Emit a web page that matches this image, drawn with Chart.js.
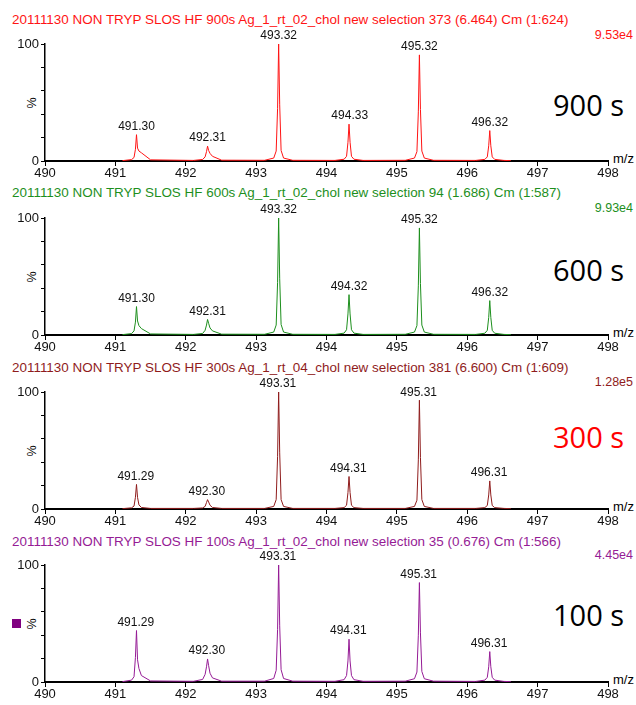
<!DOCTYPE html>
<html>
<head>
<meta charset="utf-8">
<script src="https://cdn.jsdelivr.net/npm/chart.js@4.4.1/dist/chart.umd.min.js"></script>
<style>
body { margin:0; background:#fff; width:636px; height:705px; position:relative; overflow:hidden; font-family:"Liberation Sans", Arial, sans-serif; }
canvas, .t, .s, .big, .mz, .pct, .sq { position:absolute; }
.t { left:12px; font-size:13.45px; white-space:nowrap; line-height:16px; }
.s { right:3px; font-size:12.5px; line-height:16px; }
.big { font-family:"Open Sans", sans-serif; font-size:29px; left:553px; line-height:40px; white-space:nowrap; }
.mz { left:613px; font-size:13px; line-height:16px; }
.pct { left:26px; font-size:12.5px; line-height:14px; transform:rotate(-90deg); }
.sq { left:12px; top:619px; width:9px; height:9px; background:#800080; }
</style>
</head>
<body>
<script>
// m/z sampling points of the profile spectrum (shared by all four runs)
var mzGrid = [
  491.10, 491.23, 491.265, 491.285, 491.30, 491.315, 491.335, 491.37, 491.50,
  492.11, 492.24, 492.275, 492.295, 492.31, 492.325, 492.345, 492.38, 492.51,
  493.12, 493.25, 493.285, 493.305, 493.32, 493.335, 493.355, 493.39, 493.52,
  494.12, 494.25, 494.285, 494.305, 494.32, 494.335, 494.355, 494.39, 494.52,
  495.12, 495.25, 495.285, 495.305, 495.32, 495.335, 495.355, 495.39, 495.52,
  496.12, 496.25, 496.285, 496.305, 496.32, 496.335, 496.355, 496.39, 496.52,
  496.62
];

// relative intensity (%) at each grid point
var int900 = [
  0.3, 1.2, 3, 10, 22.5, 11, 8.5, 7, 1,
  0.5, 1.3, 3.5, 8, 12.7, 9, 6.5, 4, 0.7,
  0.6, 2.5, 8.5, 45, 100, 48, 9, 2.5, 0.6,
  0.5, 1.5, 4, 16, 31.5, 16, 4, 1.5, 0.5,
  0.6, 2.5, 8, 42, 90.7, 44, 8.5, 2.5, 0.6,
  0.5, 1.4, 3.5, 13, 26, 13, 3.5, 1.4, 0.5,
  0.3
];
var int600 = [
  0.3, 1.2, 3.5, 11, 24.3, 12, 8, 5.5, 0.9,
  0.5, 1.3, 4, 8.5, 13.3, 10, 6, 3.5, 0.7,
  0.6, 2.5, 8.5, 45, 100, 48, 9, 2.5, 0.6,
  0.5, 1.6, 4.5, 18, 34.5, 18, 4.5, 1.6, 0.5,
  0.6, 2.5, 8, 42, 91.5, 44, 8.5, 2.5, 0.6,
  0.5, 1.5, 4, 15, 29.4, 15, 4, 1.5, 0.5,
  0.3
];
var int300 = [
  0.3, 1, 2.5, 10, 21, 10, 3.5, 1.3, 0.5,
  0.5, 0.9, 2.2, 5.5, 8, 6, 3.2, 1.3, 0.5,
  0.5, 2.2, 8, 45, 100, 48, 8, 2.2, 0.5,
  0.5, 1.2, 3.2, 14, 27.8, 14, 3.2, 1.2, 0.5,
  0.5, 2.2, 7.5, 42, 93, 44, 8, 2.2, 0.5,
  0.5, 1.2, 3, 12, 24, 12, 3, 1.2, 0.5,
  0.3
];
var int100 = [
  0.3, 1.6, 4.5, 21, 44, 19, 11.5, 5.5, 0.9,
  0.6, 2.2, 6.5, 13, 19.7, 14, 7.5, 3.5, 0.7,
  0.7, 3, 10, 45, 100, 48, 10.5, 3, 0.7,
  0.6, 2, 5.5, 18, 36.6, 18, 5.5, 2, 0.6,
  0.7, 2.8, 8.5, 40, 85, 42, 9, 2.8, 0.7,
  0.5, 1.6, 4, 13, 26, 13, 4, 1.6, 0.5,
  0.3
];

// labelled peaks
var peakMz900 = [491.30, 492.31, 493.32, 494.33, 495.32, 496.32];
var peakTop900 = [22.5, 12.7, 100, 31.5, 90.7, 26];
var peakMz600 = [491.30, 492.31, 493.32, 494.32, 495.32, 496.32];
var peakTop600 = [24.3, 13.3, 100, 34.5, 91.5, 29.4];
var peakMz300 = [491.29, 492.30, 493.31, 494.31, 495.31, 496.31];
var peakTop300 = [21, 8, 100, 27.8, 93, 24];
var peakMz100 = [491.29, 492.30, 493.31, 494.31, 495.31, 496.31];
var peakTop100 = [44, 19.7, 100, 36.6, 85, 26];

var titles = [
  '20111130 NON TRYP SLOS HF 900s Ag_1_rt_02_chol new selection 373 (6.464) Cm (1:624)',
  '20111130 NON TRYP SLOS HF 600s Ag_1_rt_02_chol new selection 94 (1.686) Cm (1:587)',
  '20111130 NON TRYP SLOS HF 300s Ag_1_rt_04_chol new selection 381 (6.600) Cm (1:609)',
  '20111130 NON TRYP SLOS HF 100s Ag_1_rt_02_chol new selection 35 (0.676) Cm (1:566)'
];
var scaleLabels = ['9.53e4', '9.93e4', '1.28e5', '4.45e4'];
var timeLabels = ['900 s', '600 s', '300 s', '100 s'];
var xTicks = [490, 491, 492, 493, 494, 495, 496, 497, 498];

var runs = [
  { y: int900, mz: peakMz900, top: peakTop900, color: '#ff1414', big: '#000' },
  { y: int600, mz: peakMz600, top: peakTop600, color: '#1d8f1d', big: '#000' },
  { y: int300, mz: peakMz300, top: peakTop300, color: '#8f1c1c', big: '#ff0000' },
  { y: int100, mz: peakMz100, top: peakTop100, color: '#951b95', big: '#000' }
];

// page layout (pixel rows for each panel)
var axisTop = [44, 218, 392, 565];
var titleY = [20, 193, 368, 542];
var scaleY = [35, 208, 382, 555];
var bigY = [105, 270, 437, 615];
var PAD = 24, AREA_H = 117, XAX_H = 20;

function addDiv(cls, text, top, color) {
  var d = document.createElement('div');
  d.className = cls;
  d.textContent = text;
  d.style.top = top + 'px';
  if (color) d.style.color = color;
  document.body.appendChild(d);
  return d;
}

var peakLabels = {
  id: 'peakLabels',
  afterDatasetsDraw: function (chart, args, opts) {
    var ctx = chart.ctx, xs = chart.scales.x, ys = chart.scales.y;
    ctx.save();
    ctx.font = '12px "Liberation Sans", Arial, sans-serif';
    ctx.fillStyle = '#111';
    ctx.textAlign = 'center';
    ctx.textBaseline = 'bottom';
    opts.mz.forEach(function (m, i) {
      ctx.fillText(m.toFixed(2), xs.getPixelForValue(m), ys.getPixelForValue(opts.top[i]) - 2);
    });
    ctx.restore();
  }
};

runs.forEach(function (r, k) {
  addDiv('t', titles[k], titleY[k] - 8, r.color);
  addDiv('s', scaleLabels[k], scaleY[k] - 8, r.color);
  addDiv('big', timeLabels[k], bigY[k] - 20, r.big);
  addDiv('mz', 'm/z', axisTop[k] + AREA_H - 10);
  addDiv('pct', '%', axisTop[k] + AREA_H / 2 - 7);

  var cv = document.createElement('canvas');
  cv.style.left = '0px';
  cv.style.top = (axisTop[k] - PAD) + 'px';
  cv.style.width = '636px';
  cv.style.height = (PAD + AREA_H + XAX_H) + 'px';
  cv.width = 636;
  cv.height = PAD + AREA_H + XAX_H;
  document.body.appendChild(cv);

  var pts = mzGrid.map(function (m, i) { return { x: m, y: r.y[i] }; });

  new Chart(cv, {
    type: 'line',
    data: {
      datasets: [{
        data: pts,
        borderColor: r.color,
        borderWidth: 1,
        pointRadius: 0,
        tension: 0,
        fill: false
      }]
    },
    options: {
      responsive: false,
      animation: false,
      events: [],
      layout: { padding: { top: PAD, right: 28, left: 0, bottom: 0 } },
      plugins: {
        legend: { display: false },
        tooltip: { enabled: false },
        peakLabels: { mz: r.mz, top: r.top }
      },
      scales: {
        x: {
          type: 'linear',
          min: 490, max: 498,
          afterBuildTicks: function (s) { s.ticks = xTicks.map(function (v) { return { value: v }; }); },
          afterFit: function (s) { s.height = XAX_H; },
          grid: { display: true, drawOnChartArea: false, drawTicks: true, tickLength: 5, color: '#000', tickWidth: 1 },
          border: { display: true, color: '#000', width: 2 },
          ticks: { color: '#111', padding: 0, maxRotation: 0, font: { family: '"Liberation Sans", Arial', size: 13 } }
        },
        y: {
          min: 0, max: 100,
          afterFit: function (s) { s.width = 45; },
          grid: { display: true, drawOnChartArea: false, drawTicks: true, tickLength: 4, color: '#000', tickWidth: 1 },
          border: { display: true, color: '#000', width: 1.5 },
          ticks: {
            stepSize: 10, padding: 2, color: '#111',
            font: { family: '"Liberation Sans", Arial', size: 13 },
            callback: function (v) { return (v === 0 || v === 100) ? String(v) : ''; }
          }
        }
      }
    },
    plugins: [peakLabels]
  });
});

var sq = document.createElement('div');
sq.className = 'sq';
document.body.appendChild(sq);
</script>
</body>
</html>
